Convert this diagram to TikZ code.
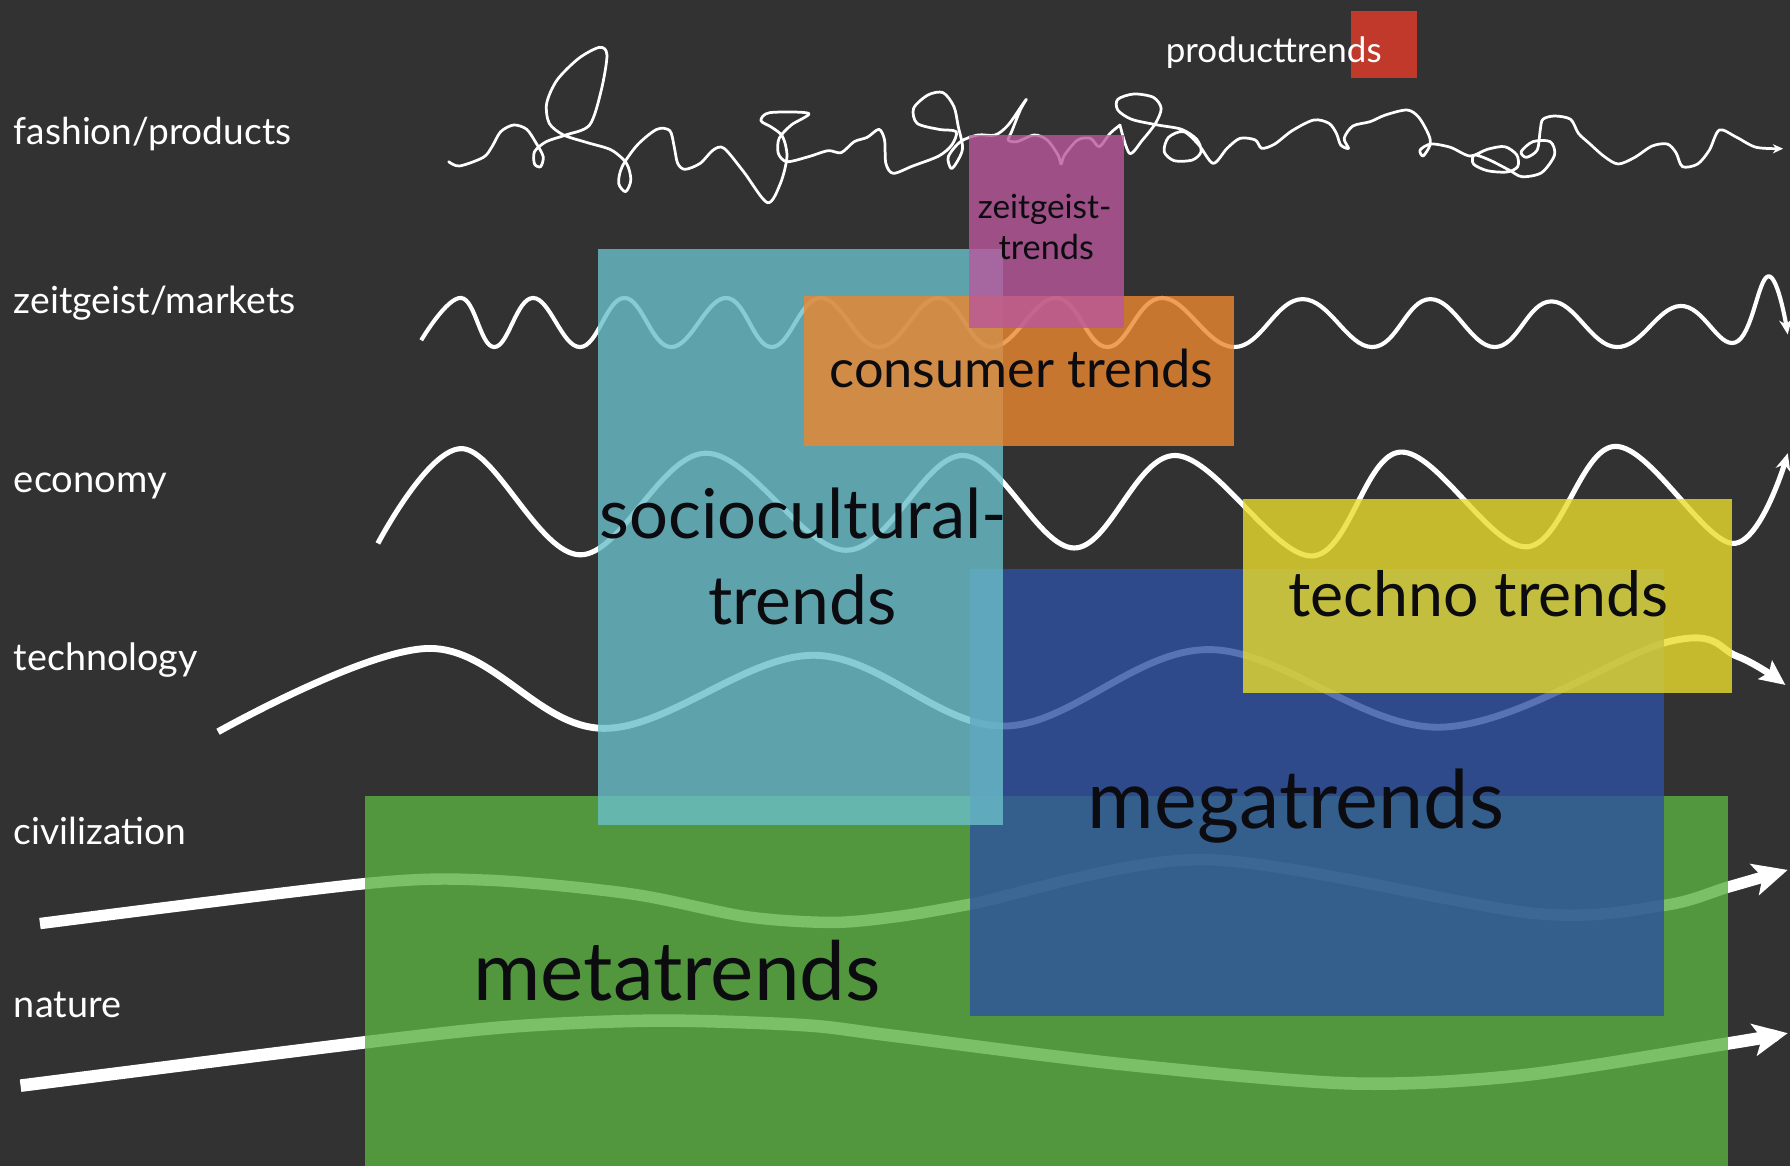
\documentclass[tikz,border=0pt]{standalone}
\usepackage{fontspec}
\setmainfont{Lato}
\usetikzlibrary{arrows.meta}
\definecolor{bg}{RGB}{50,50,50}
\definecolor{cgreen}{RGB}{90,177,66}
\definecolor{cblue}{RGB}{45,80,160}
\definecolor{cteal}{RGB}{106,191,202}
\definecolor{cyellow}{RGB}{234,219,44}
\definecolor{corange}{RGB}{237,135,47}
\definecolor{cmagenta}{RGB}{185,87,156}
\definecolor{cred}{RGB}{192,57,43}
\definecolor{ink}{RGB}{12,12,16}
\newcommand{\fitto}[2]{\resizebox{#1pt}{!}{#2}}
\begin{document}
\begin{tikzpicture}[x=1pt,y=-1pt,
  lbl/.style={anchor=base west,inner sep=0pt,text=white},
  btxt/.style={anchor=base,inner sep=0pt,text=ink},
  wave/.style={draw=white,line join=round},
  tbox/.style={opacity=0.8}]
\useasboundingbox (0,0) rectangle (1568,1021);
\fill[bg] (0,0) rectangle (1568,1021);

% ---------- curves ----------
% fashion/products scribble, part 1
\begin{scope}[shift={(385.4,35.04)},x=0.37994pt,y=-0.29197pt]
\draw[wave,line width=2.4pt,line cap=round] plot[smooth,tension=0.5] coordinates {
(20,365) (45,378) (100,352) (120,320) (140,275) (170,255) (200,268) (222,310) (238,350) (232,380) (218,372) (218,335) (245,305) (290,285) (345,255) (372,150) (385,45) (368,22) (320,55) (270,120) (246,190) (252,250) (285,285) (340,308) (395,330) (430,370) (440,420) (428,455) (412,430) (420,380) (455,315) (500,268) (530,272) (540,320) (548,370) (565,388) (600,370) (630,330) (655,325) (700,395) (755,488) (785,430) (800,350) (790,290) (765,262) (740,242) (760,218) (850,220) (810,255) (782,295) (780,340) (800,365) (850,350) (895,332) (925,338) (955,305) (985,292) (1012,268) (1025,300) (1028,370) (1045,400) (1090,378) (1150,348) (1180,315) (1190,275) (1150,268) (1100,250) (1092,205) (1125,165) (1160,158) (1185,200) (1195,260) (1205,325) (1190,370) (1178,385) (1172,350) (1200,305) (1240,285) (1280,285) (1310,255) (1345,190) (1352,178) (1338,210) (1318,275) (1310,300) (1330,305) (1370,285) (1400,300) (1425,345) (1432,372) (1440,345) (1470,300) (1500,295) (1520,320) (1545,280) (1568,255)};
\end{scope}
% fashion/products scribble, part 2
\begin{scope}[shift={(972.3,35.04)},x=0.37994pt,y=-0.29197pt]
\draw[wave,line width=2.4pt,line cap=round,-{Stealth[length=9pt,width=8pt]}] plot[smooth,tension=0.5] coordinates {
(23,255) (45,340) (75,300) (105,250) (118,205) (100,172) (55,162) (18,178) (18,210) (50,238) (110,255) (165,268) (200,298) (210,335) (190,360) (148,362) (125,335) (135,292) (170,275) (205,315) (238,370) (270,325) (300,295) (335,300) (350,325) (380,312) (420,272) (470,240) (505,250) (522,280) (532,315) (550,325) (540,295) (560,258) (600,245) (635,225) (685,210) (712,232) (735,285) (738,315) (722,348) (715,330) (740,312) (785,322) (830,348) (870,328) (910,320) (938,345) (940,380) (915,396) (870,392) (838,372) (840,345) (875,360) (920,390) (950,410) (995,398) (1025,345) (1015,305) (975,305) (948,335) (960,352) (985,330) (992,270) (998,238) (1025,228) (1062,238) (1080,280) (1105,310) (1140,350) (1172,372) (1210,352) (1250,318) (1285,312) (1305,338) (1320,380) (1355,372) (1382,330) (1405,270) (1445,292) (1490,322) (1552,326)};
\end{scope}
% zeitgeist/markets
\draw[wave,line width=3.6pt,-{Stealth[length=13pt,width=11pt]}] plot[smooth,tension=0.7] coordinates {
(369,298) (404,261) (433,304) (467,261) (508,304) (547,261) (588,304) (636,261) (676,304) (719,261) (770,304) (822,261) (869,304) (925,261) (970,304) (1018,261) (1081,304) (1141,262) (1202,304) (1253,262) (1309,304) (1359,264) (1416,304) (1472,268) (1520,300) (1549,242) (1566,293)};
% economy
\draw[wave,line width=4.5pt,-{Stealth[length=15pt,width=13pt]}] plot[smooth,tension=0.6] coordinates {
(331,476) (405,393) (508,486) (618,397) (741,482) (843,399) (941,480) (1030,399) (1149,487) (1227,396) (1337,479) (1415,391) (1518,476) (1566,397)};
% technology
\draw[wave,line width=6pt,-{Stealth[length=22pt,width=20pt,inset=4pt]}] plot[smooth,tension=0.6] coordinates {
(191,641) (376,568) (528,638) (712,574) (880,636) (1059,569) (1261,637) (1462,562) (1522,575) (1564,600)};
% civilization
\draw[wave,line width=10pt,-{Stealth[length=30pt,width=28pt,inset=7pt]}] plot[smooth,tension=0.5] coordinates {
(35,809) (320,774) (427,771) (553,783) (654,803) (729,808) (785,803) (850,792) (1056,753) (1343,800) (1458,793) (1514,777) (1566,762)};
% nature
\draw[wave,line width=11pt,-{Stealth[length=30pt,width=28pt,inset=7pt]}] plot[smooth,tension=0.5] coordinates {
(18,951) (320,913) (452,899) (578,894) (704,898) (780,907) (981,932) (1182,949) (1333,942) (1514,914) (1566,905)};

% ---------- boxes ----------
\fill[cgreen,tbox] (320,697) rectangle (1514,1021);
\fill[cblue,tbox] (850,498) rectangle (1458,890);
\fill[cteal,tbox] (524,218) rectangle (879,723);
\fill[cyellow,tbox] (1089,437) rectangle (1517,607);
\fill[corange,tbox] (704,259) rectangle (1081,391);
\fill[cmagenta,tbox] (849,118) rectangle (985,287);
\fill[cred] (1183,10) rectangle (1241,68);

% ---------- texts ----------
\node[lbl] (lfash) at (12,127) {\fitto{243}{fashion/products}};
\node[lbl] (lzeit) at (12,274.5) {\fitto{247}{zeitgeist/markets}};
\node[lbl] (lecon) at (12,431) {\fitto{134}{economy}};
\node[lbl] (ltech) at (12,587) {\fitto{161}{technology}};
\node[lbl] (lciv) at (12,740) {\fitto{151}{civilization}};
\node[lbl] (lnat) at (12,891) {\fitto{94}{nature}};
\node[lbl] (tprod) at (1021,55) {\fitto{189}{producttrends}};
\node[btxt] (tzeit1) at (915,191) {\fitto{117}{zeitgeist-}};
\node[btxt] (tzeit2) at (916.5,227) {\fitto{83.5}{trends}};
\node[btxt] (tcons) at (894.7,339) {\fitto{336}{consumer trends}};
\node[btxt] (tsoc1) at (703.7,471.5) {\fitto{357}{sociocultural-}};
\node[btxt] (tsoc2) at (702.8,547.4) {\fitto{165}{trends}};
\node[btxt] (ttech) at (1295,540) {\fitto{333}{techno trends}};
\node[btxt] (tmega) at (1135.2,725.6) {\fitto{364.5}{megatrends}};
\node[btxt] (tmeta) at (593.2,876) {\fitto{357}{metatrends}};
\end{tikzpicture}
\end{document}
